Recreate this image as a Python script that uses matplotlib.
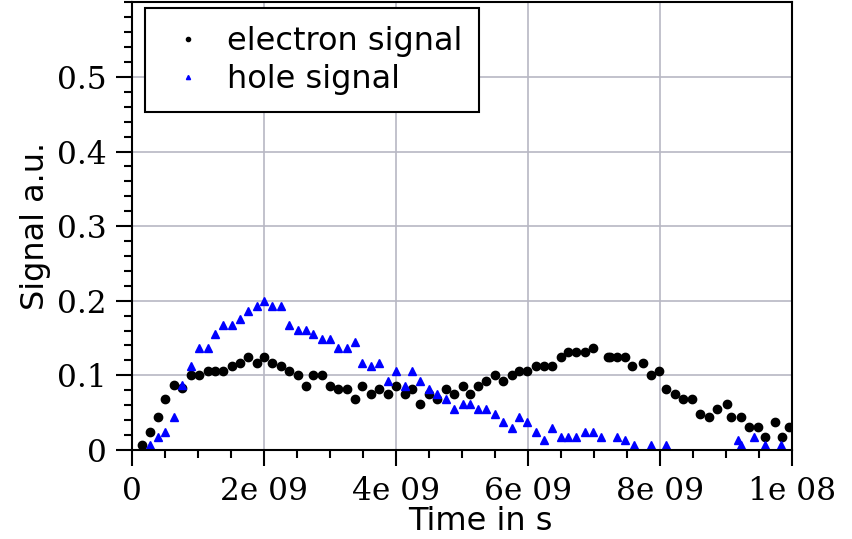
import matplotlib
matplotlib.use("Agg")
import matplotlib.pyplot as plt
import numpy as np
from matplotlib.ticker import FixedLocator, MultipleLocator

# electron signal: time in ns, signal in a.u.
e_t = [0.146, 0.272, 0.398, 0.505, 0.631, 0.762, 0.889, 1.020, 1.147, 1.258,
       1.384, 1.511, 1.637, 1.763, 1.891, 2.001, 2.128, 2.255, 2.386, 2.513,
       2.639, 2.750, 2.877, 3.003, 3.129, 3.256, 3.387, 3.493, 3.625, 3.751,
       3.878, 4.005, 4.131, 4.243, 4.369, 4.495, 4.627, 4.753, 4.880, 5.017,
       5.117, 5.244, 5.370, 5.496, 5.624, 5.760, 5.866, 5.992, 6.118, 6.246,
       6.372, 6.504, 6.604, 6.736, 6.862, 6.989, 7.211, 7.246, 7.348, 7.480,
       7.580, 7.742, 7.869, 7.995, 8.102, 8.228, 8.360, 8.486, 8.618, 8.744,
       8.876, 9.027, 9.077, 9.235, 9.361, 9.493, 9.593, 9.745, 9.857, 9.958]
e_v = [0.006, 0.024, 0.044, 0.068, 0.0875, 0.083, 0.100, 0.100, 0.106, 0.106,
       0.106, 0.113, 0.117, 0.124, 0.117, 0.124, 0.117, 0.113, 0.106, 0.100,
       0.086, 0.100, 0.100, 0.086, 0.0815, 0.0815, 0.068, 0.086, 0.075, 0.0815,
       0.075, 0.086, 0.075, 0.0815, 0.062, 0.075, 0.068, 0.0815, 0.075, 0.086,
       0.075, 0.086, 0.093, 0.100, 0.093, 0.100, 0.106, 0.106, 0.113, 0.113,
       0.113, 0.124, 0.131, 0.131, 0.131, 0.137, 0.124, 0.124, 0.124, 0.124,
       0.113, 0.117, 0.100, 0.106, 0.0815, 0.075, 0.068, 0.068, 0.0485, 0.044,
       0.055, 0.062, 0.044, 0.044, 0.031, 0.031, 0.017, 0.037, 0.017, 0.031]

# hole signal
h_t = [0.272, 0.398, 0.505, 0.631, 0.762, 0.889, 1.020, 1.147, 1.258, 1.384,
       1.511, 1.637, 1.763, 1.891, 2.001, 2.128, 2.255, 2.386, 2.513, 2.639,
       2.750, 2.877, 3.003, 3.129, 3.256, 3.387, 3.493, 3.625, 3.751, 3.878,
       4.005, 4.131, 4.243, 4.369, 4.495, 4.627, 4.753, 4.880, 5.017, 5.117,
       5.244, 5.370, 5.496, 5.624, 5.760, 5.866, 5.992, 6.118, 6.246, 6.372,
       6.504, 6.604, 6.736, 6.862, 6.989, 7.117, 7.246, 7.348, 7.480, 7.616,
       7.742, 7.869, 8.102, 8.360, 8.618, 8.980, 9.184, 9.235, 9.437, 9.593,
       9.847]
h_v = [0.006, 0.017, 0.024, 0.044, 0.087, 0.113, 0.137, 0.137, 0.155, 0.168,
       0.168, 0.175, 0.186, 0.193, 0.200, 0.193, 0.193, 0.168, 0.161, 0.161,
       0.155, 0.148, 0.148, 0.137, 0.137, 0.144, 0.117, 0.113, 0.117, 0.092,
       0.106, 0.086, 0.106, 0.092, 0.0815, 0.075, 0.068, 0.055, 0.0615, 0.0615,
       0.055, 0.055, 0.048, 0.037, 0.030, 0.0435, 0.037, 0.0235, 0.0128, 0.030,
       0.017, 0.017, 0.017, 0.0235, 0.0235, 0.017, -0.004, 0.017, 0.0128, 0.006,
       -0.004, 0.006, 0.006, -0.004, -0.004, -0.004, 0.0128, 0.006, 0.017, 0.006,
       0.006]

x_ticks = [0, 2e-9, 4e-9, 6e-9, 8e-9, 1e-8]
x_ticklabels = ["0", "2e 09", "4e 09", "6e 09", "8e 09", "1e 08"]
y_ticks = [0, 0.1, 0.2, 0.3, 0.4, 0.5]
y_ticklabels = ["0", "0.1", "0.2", "0.3", "0.4", "0.5"]

fig = plt.figure(figsize=(8.53, 5.39), dpi=100)
ax = fig.add_axes([0.1549, 0.1653, 0.7731, 0.8304])

ax.plot(np.array(e_t) * 1e-9, e_v, "o", color="black", markersize=6,
        label="electron signal")
ax.plot(np.array(h_t) * 1e-9, h_v, "^", color="blue", markersize=6,
        label="hole signal")

ax.set_xlim(0, 1e-8)
ax.set_ylim(0, 0.6)

ax.xaxis.set_major_locator(FixedLocator(x_ticks))
ax.set_xticklabels(x_ticklabels)
ax.xaxis.set_minor_locator(MultipleLocator(5e-10))
ax.yaxis.set_major_locator(FixedLocator(y_ticks))
ax.set_yticklabels(y_ticklabels)
ax.yaxis.set_minor_locator(MultipleLocator(0.02))

ax.tick_params(which="major", direction="out", length=11.5, width=1.5,
               pad=7, labelsize=22.5)
ax.tick_params(which="minor", direction="out", length=6, width=1.5)
for lbl in ax.get_xticklabels() + ax.get_yticklabels():
    lbl.set_family("DejaVu Serif")

for sp in ax.spines.values():
    sp.set_linewidth(1.5)

ax.grid(True, which="major", color="#b8b8c4", linewidth=1.2)
ax.set_axisbelow(True)

ax.set_xlabel("Time in s", fontsize=23)
ax.xaxis.set_label_coords(0.5276, -0.125)
ax.set_ylabel("Signal a.u.", fontsize=23, labelpad=4)

leg = ax.legend(loc="upper left", bbox_to_anchor=(0.0196, 0.987),
                borderaxespad=0, fontsize=23, markerscale=0.5,
                fancybox=False, framealpha=1, edgecolor="black",
                handlelength=1.6, handletextpad=0.4, labelspacing=0.22,
                borderpad=0.55)
leg.get_frame().set_linewidth(1.5)

fig.savefig("out.png", dpi=100)
